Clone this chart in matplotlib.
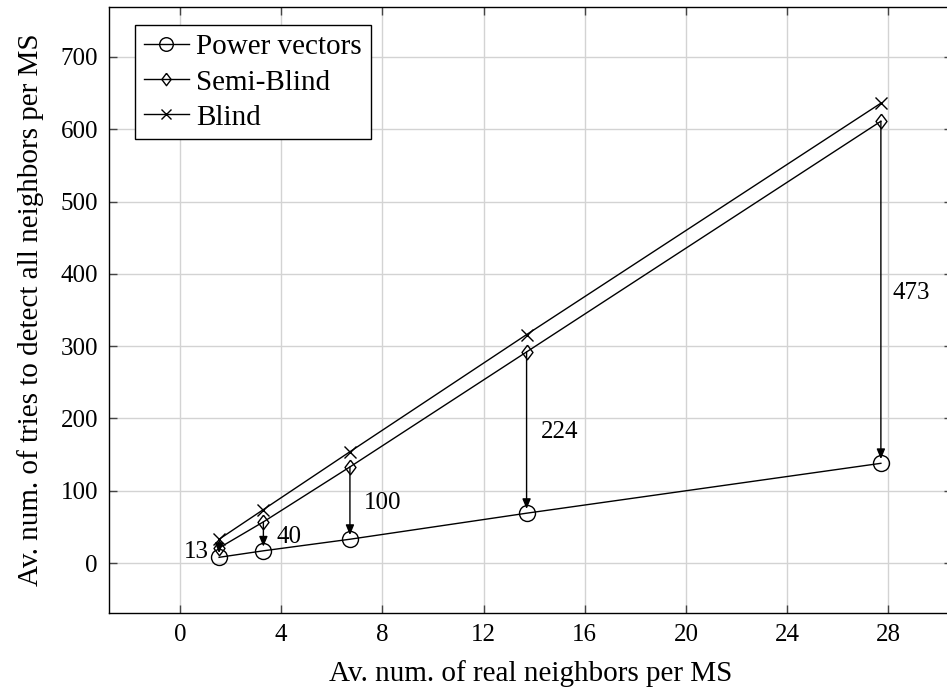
import matplotlib
matplotlib.use("Agg")
import matplotlib.pyplot as plt

plt.rcParams['font.family'] = ['Liberation Serif', 'DejaVu Serif']

x_vals = [1.55, 3.3, 6.72, 13.7, 27.7]
power_vectors = [8, 17, 33, 69, 138]
semi_blind = [21, 57, 133, 292, 611]
blind = [33, 74, 154, 316, 636]
diff_labels = ["13", "40", "100", "224", "473"]
label_pos_x = [0.67, 4.3, 8.0, 15.0, 28.9]
label_pos_y = [15, 36, 83, 181, 373]

x_ticks = [0, 4, 8, 12, 16, 20, 24, 28]
y_ticks = [0, 100, 200, 300, 400, 500, 600, 700]

fig = plt.figure(figsize=(9.47, 6.90), dpi=100)
ax = fig.add_axes([109/947, 77/690, (952 - 109)/947, 606/690])

diamond = [(0, 1), (0.75, 0), (0, -1), (-0.75, 0), (0, 1)]

ax.plot(x_vals, power_vectors, color='black', lw=1.0, marker='o', ms=11.5,
        mfc='none', mec='black', mew=1.0, label='Power vectors', zorder=3)
ax.plot(x_vals, semi_blind, color='black', lw=1.0, marker=diamond, ms=10.5,
        mfc='none', mec='black', mew=1.0, label='Semi-Blind', zorder=3)
ax.plot(x_vals, blind, color='black', lw=1.0, marker='x', ms=9,
        mfc='none', mec='black', mew=1.0, label='Blind', zorder=3)

for xv, s, p in zip(x_vals, semi_blind, power_vectors):
    ax.annotate('', xy=(xv, p), xytext=(xv, s),
                arrowprops=dict(arrowstyle='-|>,head_length=0.6,head_width=0.25',
                                color='black', lw=1.0, shrinkA=0, shrinkB=3),
                zorder=4)

for lx, ly, t in zip(label_pos_x, label_pos_y, diff_labels):
    ax.text(lx, ly, t, ha='center', va='center', fontsize=18)

ax.set_xlim(-2.8, 30.51)
ax.set_ylim(-69, 769)
ax.set_xticks(x_ticks)
ax.set_yticks(y_ticks)
ax.tick_params(direction='in', length=6, width=1.0, colors='#444444',
               labelcolor='black', labelsize=18, top=True, right=True, pad=8)
ax.grid(True, color='#d3d3d3', lw=1.0)
ax.set_axisbelow(True)
for sp in ['left', 'bottom', 'top', 'right']:
    ax.spines[sp].set_linewidth(1.0)

ax.set_xlabel('Av. num. of real neighbors per MS', fontsize=21, labelpad=10)
ax.set_ylabel('Av. num. of tries to detect all neighbors per MS', fontsize=21, labelpad=12)

leg = ax.legend(loc='upper left', bbox_to_anchor=(0.031, 0.970), fontsize=21,
                frameon=True, fancybox=False, edgecolor='black', framealpha=1,
                handlelength=1.55, handletextpad=0.25, borderpad=0.3, labelspacing=0.3,
                borderaxespad=0)
leg.get_frame().set_linewidth(1.0)
for h in leg.legend_handles:
    h.set_markersize(h.get_markersize() * 0.85)

fig.savefig('out.png', dpi=100)
